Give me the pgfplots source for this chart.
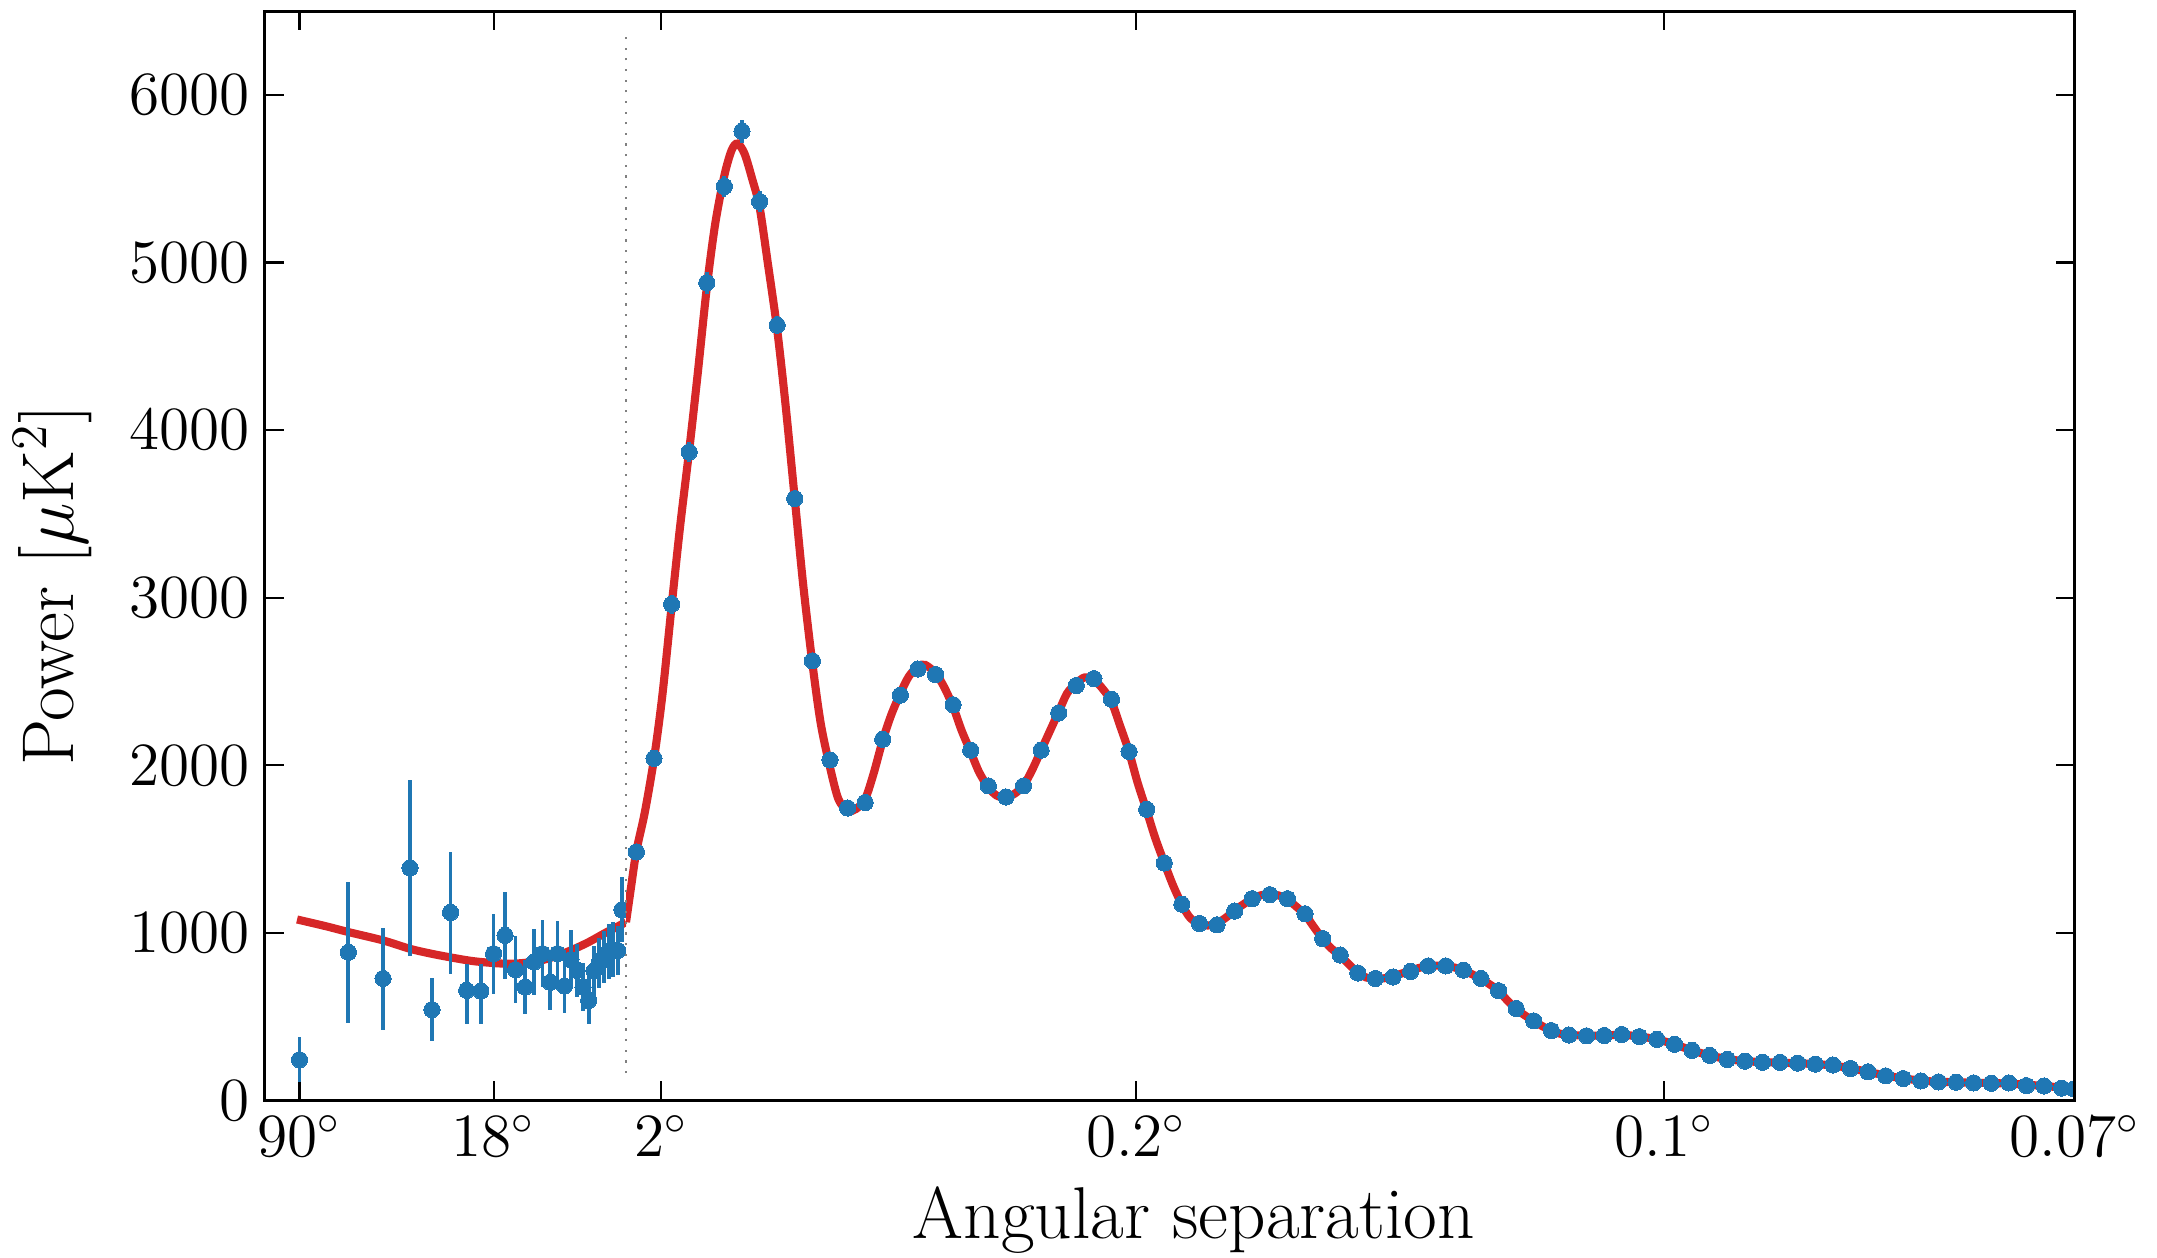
\documentclass[border=0pt]{standalone}
\usepackage{fontspec}
\usepackage{pgfplots}
\pgfplotsset{compat=1.18}
\definecolor{c0}{HTML}{1F77B4}
\definecolor{c3}{HTML}{D62728}

\begin{document}
\begin{tikzpicture}
\pgfplotsset{
  cmb/.style={
    scale only axis, height=255.5pt,
    ymin=0, ymax=6500,
    ytick={0,1000,...,6000},
    axis line style={draw=none},
    tick align=inside, major tick length=4.5pt,
    tick style={black, line width=0.5pt},
    xminorticks=false, yminorticks=false,
    tick label style={font=\fontsize{14.6}{17}\selectfont},
    label style={font=\fontsize{17.2}{20}\selectfont},
    yticklabel style={/pgf/number format/1000 sep={}},
    scaled y ticks=false,
    xtick pos=both,
  },
  model/.style={c3, line width=1.9pt, smooth},
  obs/.style={only marks, mark=*, mark size=1.9pt, c0,
    mark options={draw=c0, fill=c0, line width=0pt},
    error bars/.cd, y dir=both, y explicit, error mark=none,
    error bar style={line width=0.9pt, c0}},
}

% low multipoles, log scale in ell
\begin{axis}[cmb, name=L, width=84.7pt,
  xmode=log, xmin=1.5, xmax=30,
  xtick={2,10}, xticklabels={$90^\circ$,$18^\circ$},
  ytick pos=left,
  ylabel={Power [$\mu$K$^2$]},
  ylabel style={at={(axis description cs:-0.529,0.473)}, anchor=base},
]
\addplot[model] coordinates {
  (1.96,1081)(2.5,1040)(3,1006)(4,956)(5,906)(6,876)(7.1,853)(8.4,833)
  (10,821)(11.3,817)(12.7,821)(14.5,833)(16.7,861)(19.2,900)(22,946)
  (25.2,1000)(30,1065)
};
\addplot[obs] coordinates {
  (2,244) += (0,135) -= (0,133)
  (3,885) += (0,419) -= (0,422)
  (4,729) += (0,301) -= (0,306)
  (5,1389) += (0,527) -= (0,528)
  (6,543) += (0,189) -= (0,189)
  (7,1123) += (0,360) -= (0,366)
  (8,658) += (0,159) -= (0,199)
  (9,654) += (0,163) -= (0,195)
  (10,877) += (0,238) -= (0,243)
  (11,986) += (0,258) -= (0,263)
  (12,781) += (0,199) -= (0,197)
  (13,678) += (0,160) -= (0,160)
  (14,827) += (0,195) -= (0,195)
  (15,877) += (0,200) -= (0,200)
  (16,706) += (0,165) -= (0,165)
  (17,877) += (0,195) -= (0,195)
  (18,684) += (0,160) -= (0,160)
  (19,841) += (0,175) -= (0,175)
  (20,777) += (0,160) -= (0,160)
  (21,678) += (0,145) -= (0,145)
  (22,598) += (0,140) -= (0,140)
  (23,773) += (0,150) -= (0,150)
  (24,821) += (0,150) -= (0,150)
  (25,857) += (0,155) -= (0,155)
  (26,892) += (0,165) -= (0,165)
  (27,900) += (0,165) -= (0,165)
  (28,896) += (0,145) -= (0,145)
  (29,1139) += (0,195) -= (0,195)
};
\end{axis}

% high multipoles, linear in ell
\begin{axis}[cmb, name=R, at={(L.south east)}, anchor=south west,
  width=339.7pt,
  xmin=30, xmax=2500,
  xtick={90,900,1800,2500},
  xticklabels={$2^\circ$,$0.2^\circ$,$0.1^\circ$,$0.07^\circ$},
  ytick pos=right, yticklabels={},
  clip marker paths=true,
  xlabel={Angular separation},
  xlabel style={at={(axis description cs:0.392,-0.1263)}, anchor=base},
]
\addplot[model] coordinates {
  (30,1065)(38,1260)(47.7,1490)(62,1720)(77.7,2040)(92,2420)(107.7,2950)
  (122,3420)(137.7,3880)(152,4330)(167.7,4850)(182,5230)(197.7,5520)
  (210,5670)(220,5710)(232,5650)(245,5500)(257.7,5330)(272,4990)
  (287.7,4600)(302,4150)(317.7,3590)(332,3080)(347.7,2610)(362,2250)
  (377.7,1990)(392,1800)(407.7,1730)(422,1740)(437.7,1800)(452,1950)
  (467.7,2150)(482,2300)(497.7,2430)(512,2530)(527.7,2590)(540,2600)
  (557.7,2550)(572,2470)(587.7,2350)(602,2210)(617.7,2080)(632,1960)
  (647.7,1870)(662,1820)(677.7,1810)(692,1830)(707.7,1880)(722,1970)
  (737.7,2090)(752,2200)(767.7,2320)(782,2430)(797.7,2490)(812,2525)
  (827.7,2510)(842,2460)(857.7,2380)(872,2240)(887.7,2080)(902,1900)
  (917.7,1730)(932,1570)(947.7,1420)(962,1290)(977.7,1170)(992,1090)
  (1007.7,1055)(1022,1045)(1037.7,1060)(1052,1090)(1067.7,1135)(1082,1170)
  (1097.7,1205)(1112,1225)(1127.7,1232)(1142,1225)(1157.7,1200)(1172,1160)
  (1187.7,1110)(1202,1040)(1217.7,965)(1232,910)(1247.7,865)(1262,815)
  (1277.7,765)(1292,735)(1307.7,728)(1322,730)(1337.7,742)(1352,758)
  (1367.7,775)(1382,792)(1397.7,803)(1412,806)(1427.7,803)(1442,795)
  (1457.7,778)(1472,755)(1487.7,728)(1502,695)(1517.7,656)(1532,600)
  (1547.7,548)(1562,510)(1577.7,476)(1592,445)(1607.7,418)(1622,400)
  (1637.7,392)(1667.7,388)(1697.7,389)(1727.7,393)(1757.7,383)(1787.7,366)
  (1817.7,336)(1847.7,300)(1877.7,270)(1907.7,248)(1937.7,236)(1967.7,230)
  (1997.7,227)(2027.7,223)(2057.7,218)(2087.7,210)(2117.7,193)(2147.7,172)
  (2177.7,150)(2207.7,133)(2237.7,120)(2267.7,113)(2297.7,110)(2327.7,107)
  (2357.7,105)(2387.7,102)(2417.7,95)(2447.7,88)(2477.7,78)(2500,72)
};
\addplot[obs] coordinates {
  (47.7,1484) +- (0,50)   (77.7,2042) +- (0,50)   (107.7,2961) +- (0,55)
  (137.7,3870) +- (0,60)  (167.7,4880) +- (0,65)  (197.7,5454) +- (0,65)
  (227.7,5783) +- (0,70)  (257.7,5364) +- (0,60)  (287.7,4626) +- (0,55)
  (317.7,3592) +- (0,45)  (347.7,2624) +- (0,40)  (377.7,2033) +- (0,35)
  (407.7,1746) +- (0,30)  (437.7,1779) +- (0,30)  (467.7,2156) +- (0,30)
  (497.7,2419) +- (0,30)  (527.7,2575) +- (0,30)  (557.7,2542) +- (0,30)
  (587.7,2362) +- (0,28)  (617.7,2091) +- (0,26)  (647.7,1878) +- (0,24)
  (677.7,1812) +- (0,22)  (707.7,1878) +- (0,22)  (737.7,2091) +- (0,22)
  (767.7,2313) +- (0,22)  (797.7,2477) +- (0,22)  (827.7,2518) +- (0,22)
  (857.7,2395) +- (0,20)  (887.7,2083) +- (0,20)  (917.7,1738) +- (0,18)
  (947.7,1418) +- (0,16)  (977.7,1172) +- (0,14)  (1007.7,1057) +- (0,14)
  (1037.7,1049) +- (0,14) (1067.7,1131) +- (0,14) (1097.7,1205) +- (0,14)
  (1127.7,1229) +- (0,14) (1157.7,1205) +- (0,14) (1187.7,1115) +- (0,12)
  (1217.7,967) +- (0,12)  (1247.7,869) +- (0,12)  (1277.7,762) +- (0,10)
  (1307.7,729) +- (0,10)  (1337.7,738) +- (0,10)  (1367.7,771) +- (0,10)
  (1397.7,804) +- (0,10)  (1427.7,804) +- (0,10)  (1457.7,779) +- (0,10)
  (1487.7,729) +- (0,10)  (1517.7,656) +- (0,10)  (1547.7,550) +- (0,9)
  (1577.7,476) +- (0,9)   (1607.7,418) +- (0,8)   (1637.7,392) +- (0,8)
  (1667.7,387) +- (0,8)   (1697.7,389) +- (0,8)   (1727.7,395) +- (0,8)
  (1757.7,382) +- (0,8)   (1787.7,366) +- (0,8)   (1817.7,336) +- (0,8)
  (1847.7,300) +- (0,8)   (1877.7,270) +- (0,8)   (1907.7,246) +- (0,8)
  (1937.7,236) +- (0,8)   (1967.7,229) +- (0,8)   (1997.7,228) +- (0,8)
  (2027.7,224) +- (0,8)   (2057.7,218) +- (0,8)   (2087.7,213) +- (0,8)
  (2117.7,192) +- (0,8)   (2147.7,172) +- (0,8)   (2177.7,148) +- (0,8)
  (2207.7,132) +- (0,8)   (2237.7,118) +- (0,8)   (2267.7,112) +- (0,8)
  (2297.7,110) +- (0,8)   (2327.7,106) +- (0,8)   (2357.7,104) +- (0,8)
  (2387.7,106) +- (0,8)   (2417.7,90) +- (0,8)    (2447.7,88) +- (0,8)
  (2477.7,75) +- (0,8)    (2499,70) +- (0,8)
};
\end{axis}

\draw[line width=0.7pt] (L.south west) rectangle (R.north east);
\draw[gray, dotted, line width=0.5pt] (R.south west) ++(0,6.45pt) -- ++(0,243.55pt);
% page as large as the reference, with its margins
\pgfresetboundingbox
\path (L.south west) ++(-62.1pt,-36.8pt) rectangle ++(505.8pt,294.9pt);
\end{tikzpicture}
\end{document}
